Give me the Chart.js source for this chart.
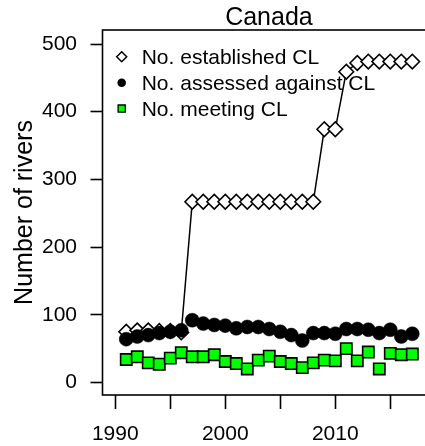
<!DOCTYPE html>
<html>
<head>
<meta charset="utf-8">
<script src="https://cdn.jsdelivr.net/npm/chart.js@4"></script>
<style>
html,body{margin:0;padding:0;overflow:hidden;background:#fff;}
canvas{display:block;}
</style>
</head>
<body>
<canvas id="c" width="445" height="446"></canvas>
<script>
const titleText = 'Canada';
const yAxisTitle = 'Number of rivers';
const seriesNames = ['No. established CL', 'No. assessed against CL', 'No. meeting CL'];
const years = [1991,1992,1993,1994,1995,1996,1997,1998,1999,2000,2001,2002,2003,2004,2005,2006,2007,2008,2009,2010,2011,2012,2013,2014,2015,2016,2017];
const established = [75,77,77,76,76,74,267,267,267,267,267,267,267,267,267,267,267,267,374,374,459,472,474,474,474,474,474];
const assessed = [64,68,70,73,75,77,92,87,85,84,80,82,82,79,75,70,62,73,73,72,79,79,78,73,78,68,72];
const meeting = [34,38,29,27,36,44,38,38,41,31,28,20,33,39,31,28,22,29,33,32,50,32,45,20,43,41,42];
const xTickValues = [1990,1995,2000,2005,2010,2015];
const xLabelValues = [1990,2000,2010];
const yTickValues = [0,100,200,300,400,500];

const FONT = "'Liberation Sans', Arial, Helvetica, sans-serif";

function sym(ctx, style, x, y, r, fill, stroke, lw) {
  ctx.save();
  ctx.beginPath();
  if (style === 'diamond') {
    ctx.moveTo(x - r, y); ctx.lineTo(x, y - r); ctx.lineTo(x + r, y); ctx.lineTo(x, y + r); ctx.closePath();
  } else if (style === 'circle') {
    ctx.arc(x, y, r, 0, Math.PI * 2);
  } else {
    ctx.rect(x - r, y - r, 2 * r, 2 * r);
  }
  ctx.fillStyle = fill; ctx.fill();
  if (lw > 0) { ctx.lineWidth = lw; ctx.strokeStyle = stroke; ctx.stroke(); }
  ctx.restore();
}

const framePlugin = {
  id: 'frame',
  beforeDatasetsDraw(chart) {
    const {ctx, chartArea: a} = chart;
    ctx.save();
    ctx.strokeStyle = '#000';
    ctx.lineWidth = 1.6;
    ctx.strokeRect(a.left, a.top, a.right - a.left, a.bottom - a.top);
    const sx = a.left + 19.2, tx = a.left + 39.2;
    const rows = [
      {style: 'diamond', r: 5, fill: '#fff', stroke: '#000', lw: 1.5},
      {style: 'circle', r: 4.3, fill: '#000', stroke: '#000', lw: 0},
      {style: 'square', r: 3.6, fill: '#00ff00', stroke: '#000', lw: 1.3}
    ];
    ctx.font = '21px ' + FONT;
    ctx.fillStyle = '#000';
    ctx.textAlign = 'left';
    ctx.textBaseline = 'alphabetic';
    rows.forEach((s, i) => {
      const base = a.top + 34.3 + i * 25.9;
      sym(ctx, s.style, sx, base - 7.5, s.r, s.fill, s.stroke, s.lw);
      ctx.fillStyle = '#000';
      ctx.fillText(seriesNames[i], tx, base);
    });
    ctx.restore();
  },
  afterDraw(chart) {
    const {ctx, chartArea: a} = chart;
    ctx.save();
    ctx.font = '25px ' + FONT;
    ctx.fillStyle = '#000';
    ctx.textAlign = 'center';
    ctx.textBaseline = 'alphabetic';
    ctx.fillText(titleText, (a.left + a.right) / 2, 25);
    ctx.restore();
  }
};

new Chart(document.getElementById('c'), {
  type: 'line',
  data: {
    datasets: [
      {
        label: seriesNames[0],
        data: years.map((x, i) => ({x, y: established[i]})),
        order: 3,
        showLine: true,
        borderColor: '#000',
        borderWidth: 1.5,
        tension: 0,
        pointStyle: 'rectRot',
        pointRadius: 7.3,
        pointBackgroundColor: '#fff',
        pointBorderColor: '#000',
        pointBorderWidth: 1.6
      },
      {
        label: seriesNames[1],
        data: years.map((x, i) => ({x, y: assessed[i]})),
        order: 2,
        showLine: false,
        pointStyle: 'circle',
        pointRadius: 7,
        pointBackgroundColor: '#000',
        pointBorderColor: '#000',
        pointBorderWidth: 0.5
      },
      {
        label: seriesNames[2],
        data: years.map((x, i) => ({x, y: meeting[i]})),
        order: 1,
        showLine: false,
        pointStyle: 'rect',
        pointRadius: 8,
        pointBackgroundColor: '#00ff00',
        pointBorderColor: '#000',
        pointBorderWidth: 1.6
      }
    ]
  },
  options: {
    responsive: false,
    animation: false,
    events: [],
    layout: {padding: {top: 30, right: 8, left: 0, bottom: 0}},
    plugins: {legend: {display: false}, tooltip: {enabled: false}, title: {display: false}},
    scales: {
      x: {
        type: 'linear',
        min: 1988.84,
        max: 2019.10,
        afterBuildTicks: s => { s.ticks = xTickValues.map(v => ({value: v})); },
        afterFit: s => { s.height = 51; },
        border: {display: false},
        grid: {display: true, drawOnChartArea: false, drawTicks: true, tickLength: 14, tickColor: '#000', tickWidth: 1.6},
        ticks: {
          autoSkip: false, maxRotation: 0, padding: 12.5, color: '#000',
          font: {family: FONT, size: 21},
          callback: v => xLabelValues.includes(v) ? String(v) : ''
        }
      },
      y: {
        type: 'linear',
        min: -18.46,
        max: 520.68,
        afterBuildTicks: s => { s.ticks = yTickValues.map(v => ({value: v})); },
        afterFit: s => { s.width = 102.5; },
        border: {display: false},
        grid: {display: true, drawOnChartArea: false, drawTicks: true, tickLength: 12, tickColor: '#000', tickWidth: 1.6},
        ticks: {padding: 13.5, color: '#000', font: {family: FONT, size: 21}},
        title: {display: true, text: yAxisTitle, color: '#000', font: {family: FONT, size: 25}, padding: {top: 10.5, bottom: 0}}
      }
    }
  },
  plugins: [framePlugin]
});
</script>
</body>
</html>
